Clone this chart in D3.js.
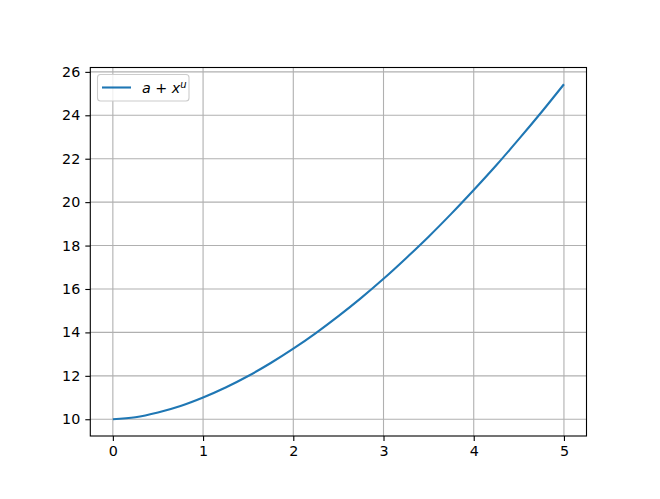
<!DOCTYPE html>
<html><head><meta charset="utf-8">
<script src="https://cdn.jsdelivr.net/npm/d3@7"></script>
<style>body{margin:0;background:#fff;} text{font-family:"DejaVu Sans",sans-serif;}</style>
</head><body>
<svg id="c" width="660" height="499"></svg>
<script>
const xs = [0,0.25,0.5,0.75,1,1.25,1.5,1.75,2,2.25,2.5,2.75,3,3.25,3.5,3.75,4,4.25,4.5,4.75,5];
const ys = [10,10.09,10.31,10.61,11,11.46,11.99,12.59,13.25,13.97,14.75,15.58,16.47,17.42,18.41,19.46,20.56,21.70,22.90,24.14,25.43];
const xTicks = [0,1,2,3,4,5];
const yTicks = [10,12,14,16,18,20,22,24,26];
const legendLabel = "a + x^u";

const L=90.3, R=586.5, T=67.5, B=436;
const svg = d3.select("#c");
const x = d3.scaleLinear().domain([-0.25,5.25]).range([L,R]);
const y = d3.scaleLinear().domain([9.2285,26.2015]).range([B,T]);
const fs = 14.3;

// grid
const g = svg.append("g");
g.selectAll(".gx").data(xTicks).join("line")
 .attr("x1",d=>x(d)).attr("x2",d=>x(d)).attr("y1",T).attr("y2",B)
 .attr("stroke","#b0b0b0").attr("stroke-width",1.1);
g.selectAll(".gy").data(yTicks).join("line")
 .attr("y1",d=>y(d)).attr("y2",d=>y(d)).attr("x1",L).attr("x2",R)
 .attr("stroke","#b0b0b0").attr("stroke-width",1.1);

// line
const pts = xs.map((v,i)=>[v,ys[i]]);
svg.append("path").datum(pts)
 .attr("d", d3.line().x(d=>x(d[0])).y(d=>y(d[1])).curve(d3.curveCatmullRom))
 .attr("fill","none").attr("stroke","#1f77b4").attr("stroke-width",2.1);

// axes
const xa = svg.append("g").attr("transform",`translate(0,${B})`)
 .call(d3.axisBottom(x).tickValues(xTicks).tickSize(5).tickPadding(5).tickFormat(d3.format("d")));
const ya = svg.append("g").attr("transform",`translate(${L},0)`)
 .call(d3.axisLeft(y).tickValues(yTicks).tickSize(5).tickPadding(5).tickFormat(d3.format("d")));
[xa,ya].forEach(a=>{
 a.select(".domain").remove();
 a.selectAll("text").attr("font-size",fs).attr("fill","#000").attr("font-family","DejaVu Sans");
 a.selectAll("line").attr("stroke","#000").attr("stroke-width",1.1);
});
// frame
svg.append("rect").attr("x",L).attr("y",T).attr("width",R-L).attr("height",B-T)
 .attr("fill","none").attr("stroke","#000").attr("stroke-width",1.1);

// legend
const lg = svg.append("g");
lg.append("rect").attr("x",97.5).attr("y",74.5).attr("width",91.5).attr("height",26.5)
 .attr("rx",3).attr("fill","#fff").attr("fill-opacity",0.8).attr("stroke","#cccccc").attr("stroke-width",1.1);
lg.append("line").attr("x1",102).attr("x2",131).attr("y1",87.5).attr("y2",87.5)
 .attr("stroke","#1f77b4").attr("stroke-width",2.1);
const t = lg.append("text").attr("x",142).attr("y",92.5).attr("font-size",fs);
t.append("tspan").attr("font-style","italic").text("a");
t.append("tspan").text(" + ");
t.append("tspan").attr("font-style","italic").text("x");
t.append("tspan").attr("font-style","italic").attr("font-size",10).attr("dy",-5).text("u");
</script>
</body></html>
